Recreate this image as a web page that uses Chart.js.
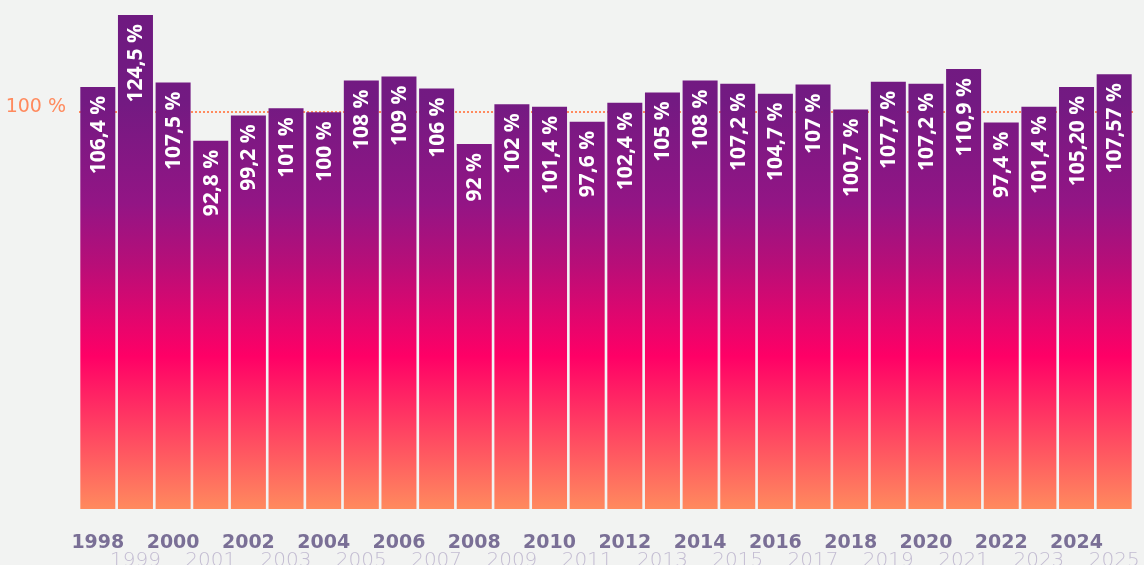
<!DOCTYPE html>
<html lang="fr">
<head>
  <meta charset="UTF-8" />
  <title>Taux annuels</title>
  <style>
    html, body {
      margin: 0;
      padding: 0;
      background-color: #f2f3f2;
    }
    #wrap {
      width: 1144px;
      height: 565px;
      position: relative;
    }
  </style>
  <script src="https://cdn.jsdelivr.net/npm/chart.js"></script>
</head>
<body>
  <div id="wrap"><canvas id="grafico"></canvas></div>

  <script>
    const annees = ["1998", "1999", "2000", "2001", "2002", "2003", "2004", "2005", "2006", "2007",
      "2008", "2009", "2010", "2011", "2012", "2013", "2014", "2015", "2016", "2017",
      "2018", "2019", "2020", "2021", "2022", "2023", "2024", "2025"];
    // hauteurs des barres
    const valeurs = [106.4, 124.5, 107.5, 92.8, 99.2, 101, 100, 108, 109, 106,
      92, 102, 101.4, 97.6, 102.4, 105, 108, 107.2, 104.7, 107,
      100.7, 107.7, 107.2, 110.9, 97.4, 101.4, 106.4, 109.6];
    // textes affichés dans les barres
    const etiquettes = ["106,4 %", "124,5 %", "107,5 %", "92,8 %", "99,2 %", "101 %", "100 %", "108 %", "109 %", "106 %",
      "92 %", "102 %", "101,4 %", "97,6 %", "102,4 %", "105 %", "108 %", "107,2 %", "104,7 %", "107 %",
      "100,7 %", "107,7 %", "107,2 %", "110,9 %", "97,4 %", "101,4 %", "105,20 %", "107,57 %"];
    const reference = 100;

    const orange = "#ff8a5e";

    function degrade(context) {
      const area = context.chart.chartArea;
      if (!area) return "#b80e78";
      const g = context.chart.ctx.createLinearGradient(0, area.top, 0, area.bottom);
      g.addColorStop(0, "#6e1a80");
      g.addColorStop(0.2, "#731a82");
      g.addColorStop(0.4, "#931585");
      g.addColorStop(0.52, "#b80e78");
      g.addColorStop(0.7, "#ff0066");
      g.addColorStop(1, "#ff8a5e");
      return g;
    }

    // texte vertical dans chaque barre
    const texteBarres = {
      id: "texteBarres",
      afterDatasetsDraw(chart) {
        const ctx = chart.ctx;
        const meta = chart.getDatasetMeta(0);
        meta.data.forEach((bar, i) => {
          ctx.save();
          ctx.translate(bar.x, bar.y + 9);
          ctx.rotate(-Math.PI / 2);
          ctx.fillStyle = "#ffffff";
          ctx.font = 'bold 21px "Open Sans"';
          ctx.textAlign = "right";
          ctx.textBaseline = "middle";
          ctx.fillText(etiquettes[i], 0, 1);
          ctx.restore();
        });
      }
    };

    new Chart(document.getElementById("grafico"), {
      type: "bar",
      data: {
        labels: annees,
        datasets: [{
          data: valeurs,
          backgroundColor: degrade,
          borderWidth: 0,
          barPercentage: 0.93,
          categoryPercentage: 1
        }]
      },
      options: {
        responsive: true,
        maintainAspectRatio: false,
        animation: false,
        layout: { padding: { top: 0, right: 11, left: 0, bottom: 0 } },
        plugins: {
          legend: { display: false },
          tooltip: { enabled: false }
        },
        scales: {
          x: {
            grid: { display: false, drawTicks: false },
            border: { display: false },
            afterFit(scale) {
              scale.height = 56;
              scale.paddingLeft = 0;
              scale.paddingRight = 0;
            },
            ticks: {
              autoSkip: false,
              maxRotation: 0,
              minRotation: 0,
              padding: 22,
              callback(val, i) {
                const t = this.getLabelForValue(val);
                return i % 2 ? ["", t] : t;
              },
              color: (c) => (c.index % 2 ? "#c3bcd2" : "#7a6f96"),
              font: (c) => (c.index % 2
                ? { family: "DejaVu Sans", size: 20, weight: "300", lineHeight: "20px" }
                : { family: "DejaVu Sans", size: 19, weight: "bold", lineHeight: "24px" })
            }
          },
          y: {
            min: 0,
            max: 128.3,
            afterBuildTicks(scale) { scale.ticks = [{ value: reference }]; },
            afterFit(scale) {
              scale.width = 79;
              scale.paddingTop = 0;
              scale.paddingBottom = 0;
            },
            grid: {
              color: orange,
              lineWidth: 2,
              drawTicks: false
            },
            border: { display: false, dash: [2, 2] },
            ticks: {
              padding: 13,
              labelOffset: -5,
              color: orange,
              font: { family: "DejaVu Sans", size: 19 },
              callback: (v) => v + " %"
            }
          }
        }
      },
      plugins: [texteBarres]
    });
  </script>
</body>
</html>
